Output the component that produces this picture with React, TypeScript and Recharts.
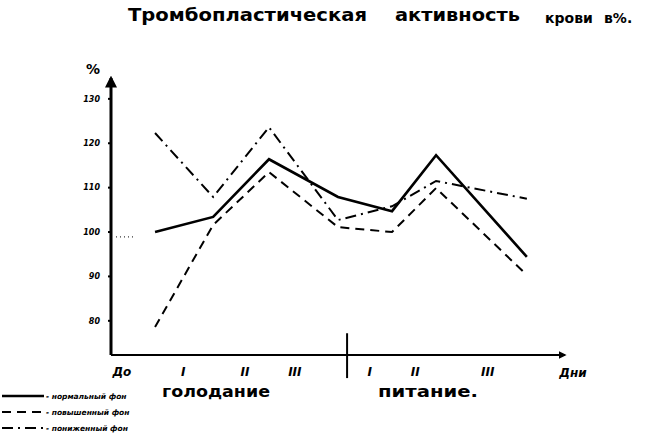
import React from 'react';
import { LineChart, Line, XAxis, YAxis, ReferenceLine, Customized } from 'recharts';

// x positions of the observation points along the day axis (0..100 axis units)
const pointPos = [9.7, 22.5, 34.8, 50.0, 61.9, 71.6, 91.6];
// series values, % thromboplastic activity
const normalBg = [100.0, 103.4, 116.4, 107.9, 104.7, 117.3, 94.4];
const highBg = [78.6, 101.6, 113.5, 101.1, 100.0, 109.9, 90.3];
const lowBg = [122.3, 107.9, 123.6, 102.7, 105.8, 111.5, 107.5];

// x-axis labels and their positions
const xLabelPos = [2.4, 15.9, 29.5, 40.5, 57.0, 67.0, 83.0];
const xLabels = ['До', 'I', 'II', 'III', 'I', 'II', 'III'];
const yTicks = [80, 90, 100, 110, 120, 130];

const seriesDefs = [
  { key: 'normal', label: '- нормальный фон', dash: undefined as string | undefined, width: 2.6 },
  { key: 'high', label: '- повышенный фон', dash: '9 6', width: 2 },
  { key: 'low', label: '- пониженный фон', dash: '11 5 2 5', width: 2 },
];

const data = pointPos.map((x, i) => ({ x, normal: normalBg[i], high: highBg[i], low: lowBg[i] }));

const FONT = '"DejaVu Sans", sans-serif';

const Decor = () => (
  <g fontFamily={FONT} fill="#000">
    <defs>
      <marker id="arr" viewBox="0 0 10 10" refX="8" refY="5" markerWidth="4" markerHeight="4" orient="auto-start-reverse">
        <path d="M0,0 L10,5 L0,10 z" fill="#000" />
      </marker>
    </defs>
    <g fontWeight="bold">
      <text x={128} y={21} fontSize={17} textLength={239} lengthAdjust="spacingAndGlyphs">Тромбопластическая</text>
      <text x={395} y={21} fontSize={17} textLength={125} lengthAdjust="spacingAndGlyphs">активность</text>
      <text x={545} y={23} fontSize={14}>крови</text>
      <text x={604} y={23} fontSize={14}>в%.</text>
    </g>
    <text x={86} y={74} fontSize={14} fontWeight="bold">%</text>
    <text x={573} y={377} fontSize={12} fontWeight="bold" fontStyle="italic" textAnchor="middle">Дни</text>
    <text x={162} y={397} fontSize={15} fontWeight="bold" textLength={108} lengthAdjust="spacingAndGlyphs">голодание</text>
    <text x={378} y={397} fontSize={15} fontWeight="bold" textLength={100} lengthAdjust="spacingAndGlyphs">питание.</text>
    {seriesDefs.map((s, i) => (
      <g key={s.key}>
        <line x1={2} x2={44} y1={396 + i * 16} y2={396 + i * 16} stroke="#000" strokeWidth={s.width} strokeDasharray={s.dash} />
        <text x={46} y={399 + i * 16} fontSize={7.5} fontWeight="bold" fontStyle="italic">{s.label}</text>
      </g>
    ))}
  </g>
);

export default function App() {
  return (
    <div style={{ position: 'absolute', left: 0, top: 0, width: 650, height: 434, background: '#fff' }}>
      <LineChart width={650} height={434} data={data} margin={{ top: 78, right: 85, bottom: 49, left: 0 }}>
        <Customized component={Decor} />
        <XAxis
          dataKey="x"
          type="number"
          domain={[0, 100]}
          ticks={xLabelPos}
          tickFormatter={(_v: number, i: number) => xLabels[i]}
          allowDataOverflow
          height={30}
          axisLine={{ stroke: '#000', strokeWidth: 2, markerEnd: 'url(#arr)' }}
          tickLine={false}
          tickMargin={6}
          tick={{ fill: '#000', fontSize: 12, fontWeight: 'bold', fontStyle: 'italic', fontFamily: FONT }}
        />
        <YAxis
          type="number"
          domain={[72.3, 134.7]}
          ticks={yTicks}
          allowDataOverflow
          width={111}
          axisLine={{ stroke: '#000', strokeWidth: 3, markerStart: 'url(#arr)' }}
          tickLine={{ stroke: '#000', strokeWidth: 2 }}
          tickSize={3}
          tickMargin={8}
          tick={{ fill: '#000', fontSize: 8, fontWeight: 'bold', fontStyle: 'italic', fontFamily: FONT }}
        />
        <ReferenceLine
          segment={[{ x: 52, y: 67.1 }, { x: 52, y: 77.2 }]}
          stroke="#000"
          strokeWidth={2}
          ifOverflow="visible"
        />
        <ReferenceLine
          segment={[{ x: 1.1, y: 98.9 }, { x: 5.5, y: 98.9 }]}
          stroke="#000"
          strokeWidth={1}
          strokeDasharray="1 3"
          ifOverflow="visible"
        />
        {seriesDefs.map((s) => (
          <Line
            key={s.key}
            dataKey={s.key}
            type="linear"
            stroke="#000"
            strokeWidth={s.width}
            strokeDasharray={s.dash}
            dot={false}
            activeDot={false}
            isAnimationActive={false}
          />
        ))}
      </LineChart>
    </div>
  );
}
